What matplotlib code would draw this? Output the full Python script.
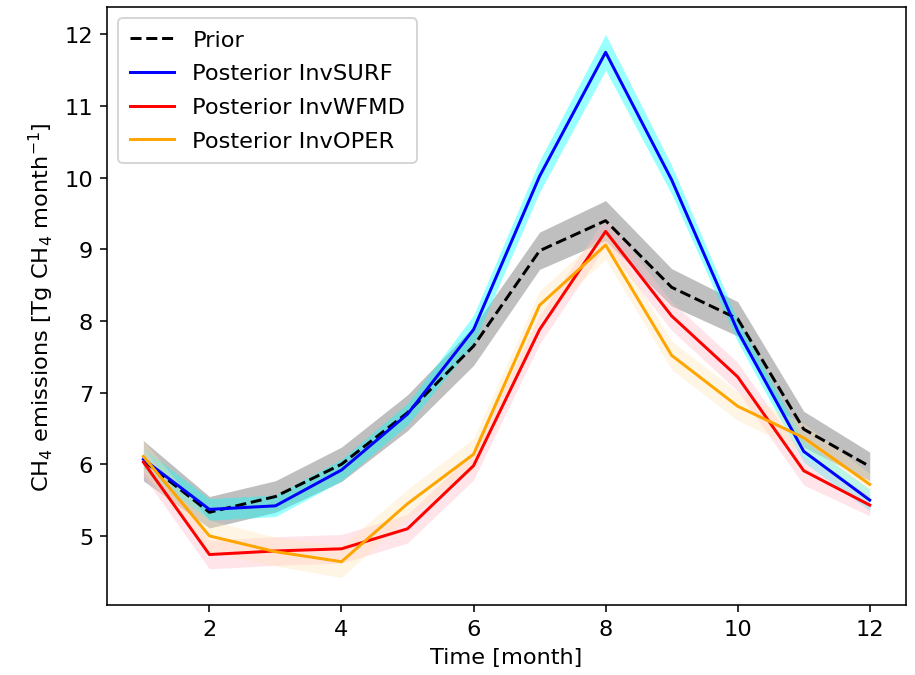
import matplotlib
matplotlib.use("Agg")
import matplotlib.pyplot as plt
import numpy as np

months = [1, 2, 3, 4, 5, 6, 7, 8, 9, 10, 11, 12]

prior = [6.05, 5.33, 5.55, 6.0, 6.72, 7.65, 8.98, 9.40, 8.47, 8.03, 6.49, 5.97]
prior_err = [0.28, 0.22, 0.22, 0.24, 0.25, 0.27, 0.26, 0.28, 0.26, 0.24, 0.25, 0.2]

surf = [6.07, 5.37, 5.42, 5.92, 6.70, 7.88, 10.02, 11.75, 9.97, 7.86, 6.18, 5.50]
surf_err = [0.15, 0.15, 0.15, 0.15, 0.15, 0.2, 0.22, 0.25, 0.2, 0.15, 0.15, 0.15]

wfmd = [6.03, 4.74, 4.79, 4.82, 5.10, 5.98, 7.88, 9.25, 8.07, 7.22, 5.91, 5.43]
wfmd_err = [0.2, 0.2, 0.2, 0.2, 0.2, 0.2, 0.2, 0.2, 0.2, 0.2, 0.2, 0.15]

oper = [6.11, 5.00, 4.78, 4.64, 5.45, 6.14, 8.22, 9.06, 7.52, 6.81, 6.37, 5.72]
oper_err = [0.22, 0.22, 0.2, 0.22, 0.2, 0.22, 0.2, 0.2, 0.2, 0.2, 0.2, 0.15]

x = np.array(months)

plt.rcParams["font.size"] = 11.3

fig = plt.figure(figsize=(6.4, 4.727), dpi=143)
ax = fig.add_axes([0.117, 0.104, 0.873, 0.884])

def band(v, e, color, alpha):
    v = np.array(v); e = np.array(e)
    ax.fill_between(x, v - e, v + e, color=color, alpha=alpha, linewidth=0)

band(prior, prior_err, "gray", 0.5)
band(surf, surf_err, "cyan", 0.4)
band(wfmd, wfmd_err, "pink", 0.4)
band(oper, oper_err, "moccasin", 0.35)

ax.plot(x, prior, "k--", lw=1.5, label="Prior")
ax.plot(x, surf, color="blue", lw=1.5, label="Posterior InvSURF")
ax.plot(x, wfmd, color="red", lw=1.5, label="Posterior InvWFMD")
ax.plot(x, oper, color="orange", lw=1.5, label="Posterior InvOPER")

ax.set_ylim(4.04, 12.38)
ax.set_xticks([2, 4, 6, 8, 10, 12])
ax.set_yticks([5, 6, 7, 8, 9, 10, 11, 12])
ax.set_xlabel("Time [month]")
ax.set_ylabel(r"CH$_4$ emissions [Tg CH$_4$ month$^{-1}$]")
ax.legend(loc="upper left", labelspacing=0.62, borderpad=0.5)

fig.savefig("out.png", dpi=143)
